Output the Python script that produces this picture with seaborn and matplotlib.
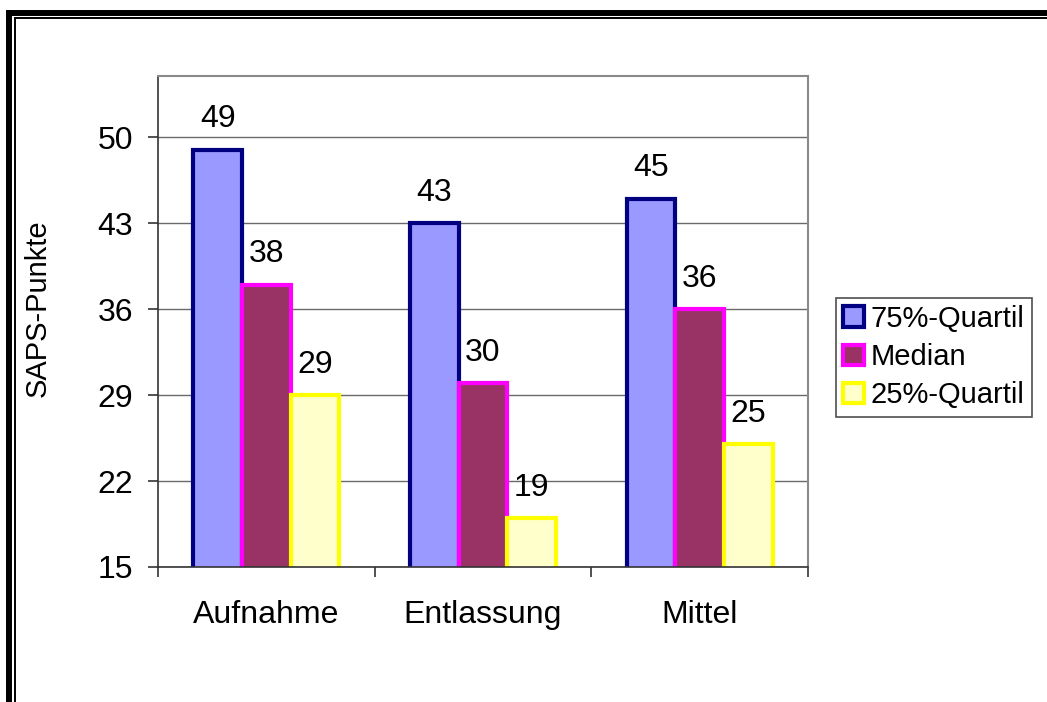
import matplotlib
matplotlib.use("Agg")
import matplotlib.pyplot as plt
from matplotlib.lines import Line2D
from matplotlib.patches import Patch
import pandas as pd
import seaborn as sns

# SAPS score quartiles per time point
categories = ["Aufnahme", "Entlassung", "Mittel"]
series = ["75%-Quartil", "Median", "25%-Quartil"]
q75 = [49, 43, 45]
median = [38, 30, 36]
q25 = [29, 19, 25]
yticks = [15, 22, 29, 36, 43, 50]

fills = ["#9999FF", "#993366", "#FFFFCC"]
edges = ["#000080", "#FF00FF", "#FFFF00"]

df = pd.DataFrame({
    "Zeitpunkt": categories * 3,
    "Reihe": [s for s in series for _ in categories],
    "Wert": q75 + median + q25,
})

sns.set_theme(style="white")
plt.rcParams["font.family"] = ["Liberation Sans", "DejaVu Sans"]
plt.rcParams.update({"text.color": "black", "axes.labelcolor": "black",
                     "xtick.color": "black", "ytick.color": "black"})

fig = plt.figure(figsize=(10.47, 7.02), dpi=100)
ax = fig.add_axes([158 / 1047, 1 - 567 / 702, 650 / 1047, 491 / 702])

sns.barplot(data=df, x="Zeitpunkt", y="Wert", hue="Reihe", order=categories,
            hue_order=series, palette=fills, width=0.674, saturation=1,
            errorbar=None, ax=ax, legend=False)

for cont, ec in zip(ax.containers, edges):
    for bar in cont:
        bar.set_edgecolor(ec)
        bar.set_linewidth(3.0)
    ax.bar_label(cont, fmt="%d", padding=11, fontsize=23, color="black")

ax.set_ylim(15, 55)
ax.set_xlim(-0.5, 2.5)
ax.set_yticks(yticks)
ax.set_yticklabels([str(v) for v in yticks])
ax.yaxis.grid(True, color="#6a6a6a", linewidth=1.0)
ax.set_axisbelow(True)

# category boundaries carry the tick marks, names sit between them
ax.set_xticks([-0.5, 0.5, 1.5, 2.5])
ax.set_xticklabels([])
ax.set_xticks([0, 1, 2], minor=True)
ax.set_xticklabels(categories, minor=True)
ax.tick_params(axis="x", which="major", length=7, width=1.2, color="#333333",
               direction="out", bottom=True)
ax.tick_params(axis="x", which="minor", length=0, pad=24, labelsize=23,
               labelcolor="black")
ax.tick_params(axis="y", length=7, width=1.2, color="#333333", direction="out",
               left=True, pad=11, labelsize=23, labelcolor="black")

ax.set_xlabel("")
ax.set_ylabel("SAPS-Punkte", fontsize=21, color="black")
ax.yaxis.set_label_coords(-0.163, 0.527)

for side in ["top", "right"]:
    ax.spines[side].set_color("#8a8a8a")
    ax.spines[side].set_linewidth(1.5)
for side in ["left", "bottom"]:
    ax.spines[side].set_color("#333333")
    ax.spines[side].set_linewidth(1.2)

handles = [Patch(facecolor=f, edgecolor=e, linewidth=3.0) for f, e in zip(fills, edges)]
leg = fig.legend(handles, series, loc="center left",
                 bbox_to_anchor=(836 / 1047, 1 - 357 / 702), fontsize=21,
                 frameon=True, fancybox=False, shadow=False, borderpad=0.25,
                 handlelength=0.7, handleheight=0.7, handletextpad=0.25,
                 labelspacing=0.35, borderaxespad=0)
leg.get_frame().set_edgecolor("#222222")
leg.get_frame().set_linewidth(1.2)
for t in leg.get_texts():
    t.set_color("black")

# double frame along the top and left edge of the sheet
W, H = 1047, 702
fig.add_artist(Line2D([9 / W, 1], [1 - 13 / H, 1 - 13 / H], color="black",
                      linewidth=4.3, transform=fig.transFigure, solid_capstyle="butt"))
fig.add_artist(Line2D([14.5 / W, 1], [1 - 18 / H, 1 - 18 / H], color="black",
                      linewidth=1.4, transform=fig.transFigure, solid_capstyle="butt"))
fig.add_artist(Line2D([9 / W, 9 / W], [0, 1 - 10 / H], color="black",
                      linewidth=4.3, transform=fig.transFigure, solid_capstyle="butt"))
fig.add_artist(Line2D([14.8 / W, 14.8 / W], [0, 1 - 17.3 / H], color="black",
                      linewidth=1.4, transform=fig.transFigure, solid_capstyle="butt"))

fig.savefig("out.png", dpi=100, facecolor="white")
